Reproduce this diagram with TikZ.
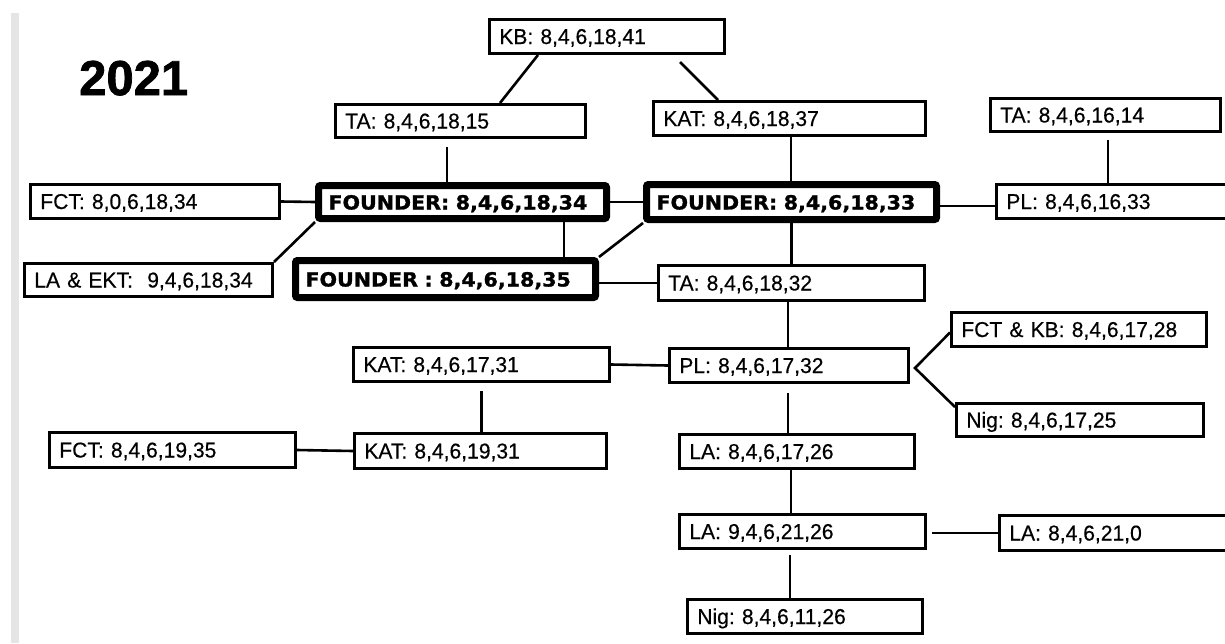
\documentclass[tikz,border=0pt]{standalone}
\usepackage{fontspec}
\newfontfamily\labfont[FakeStretch=0.98,FakeBold=0.4]{Liberation Sans}
\newfontfamily\fndfont[FakeStretch=1.056]{DejaVu Sans}[BoldFeatures={FakeBold=1.2}]
\newfontfamily\yearfont{Liberation Sans}[BoldFeatures={FakeBold=1.5}]
\newcommand\placebox[8]{% #1 style, #2 line width, #3 name, #4 left, #5 top, #6 right, #7 bottom, #8 text
  \pgfmathsetmacro\bxtw{#6-#4-#2-20}%
  \pgfmathsetmacro\bxh{#7-#5-#2}%
  \pgfmathsetmacro\bxcx{(#4+#6)/2}%
  \pgfmathsetmacro\bxcy{(#5+#7)/2}%
  \node[#1, text width=\bxtw pt, minimum height=\bxh pt] (#3) at (\bxcx,\bxcy) {\mbox{#8}};%
}
\tikzset{
  box/.style={draw=black, fill=white, line width=2.6pt, inner xsep=10pt, inner ysep=0pt,
    text height=15pt, text depth=0pt, align=left,
    font=\labfont\frenchspacing\fontsize{21.5}{24}\selectfont},
  founderbox/.style={box, line width=7pt, rounded corners=2pt,
    font=\fndfont\bfseries\frenchspacing\fontsize{19.5}{22}\selectfont},
  link/.style={draw=black, line width=2.6pt},
}
\begin{document}
\frenchspacing
\begin{tikzpicture}[x=1pt,y=-1pt]
\useasboundingbox (0,0) rectangle (1225,643);
\fill[white] (0,0) rectangle (1225,643);
\fill[black!10] (11,13) rectangle (19,643);
\node[anchor=base west, inner sep=0pt, font=\yearfont\bfseries\fontsize{49}{52}\selectfont] (yr) at (79,95) {2021};

% thin boxes
\placebox{box}{2.6}{KB}{488}{18}{726}{55}{KB: 8,4,6,18,41}
\placebox{box}{2.6}{TAa}{334}{103}{587}{139}{TA: 8,4,6,18,15}
\placebox{box}{2.6}{KATa}{652}{100}{927}{137}{KAT: 8,4,6,18,37}
\placebox{box}{2.6}{TAb}{989}{97}{1222}{133}{TA: 8,4,6,16,14}
\placebox{box}{2.6}{FCTa}{29}{183}{281}{220}{FCT: 8,0,6,18,34}
\placebox{box}{2.6}{LAE}{23}{262}{274}{298}{LA \& EKT:\ \ 9,4,6,18,34}
\placebox{box}{2.6}{PLa}{995}{183}{1240}{220}{PL: 8,4,6,16,33}
\placebox{box}{2.6}{TAc}{657}{264}{926}{302}{TA: 8,4,6,18,32}
\placebox{box}{2.6}{KATb}{352}{346}{611}{383}{KAT: 8,4,6,17,31}
\placebox{box}{2.6}{PLb}{668}{347}{910}{384}{PL: 8,4,6,17,32}
\placebox{box}{2.6}{FCTKB}{950}{311}{1208}{348}{FCT \& KB: 8,4,6,17,28}
\placebox{box}{2.6}{NigA}{955}{402}{1205}{438}{Nig: 8,4,6,17,25}
\placebox{box}{2.6}{FCTb}{48}{431}{297}{469}{FCT: 8,4,6,19,35}
\placebox{box}{2.6}{KATc}{353}{432}{608}{470}{KAT: 8,4,6,19,31}
\placebox{box}{2.6}{LAa}{678}{433}{916}{470}{LA: 8,4,6,17,26}
\placebox{box}{2.6}{LAb}{678}{513}{927}{550}{LA: 9,4,6,21,26}
\placebox{box}{2.6}{LAc}{998}{514}{1240}{552}{LA: 8,4,6,21,0}
\placebox{box}{2.6}{NigB}{686}{598}{924}{635}{Nig: 8,4,6,11,26}
% founder boxes
\placebox{founderbox}{7}{Fa}{315}{182}{610}{222}{FOUNDER: 8,4,6,18,34}
\placebox{founderbox}{7}{Fb}{643}{181}{940}{223}{FOUNDER: 8,4,6,18,33}
\placebox{founderbox}{7}{Fc}{292}{257}{599}{301}{FOUNDER : 8,4,6,18,35}

% connectors
\draw[link] ([xshift=-69pt]KB.south) -- ([xshift=39.5pt]TAa.north);
\draw[link] ([xshift=73pt,yshift=-7pt]KB.south) -- ([xshift=-71.5pt]KATa.north);
\draw[link] ([xshift=-13.5pt,yshift=-8pt]TAa.south) -- ([xshift=-13.5pt]TAa.south |- Fa.north);
\draw[link] (FCTa.east) -- (Fa.west);
\draw[link] (LAE.north east) -- (Fa.south west);
\draw[link] ([xshift=101.5pt]Fa.south) -- ([xshift=101.5pt]Fa.south |- Fc.north);
\draw[link] (Fa.east) -- (Fb.west);
\draw[link] (Fb.south west) -- (Fc.north east);
\draw[link] ([xshift=1.5pt]KATa.south) -- ([xshift=1.5pt]KATa.south |- Fb.north);
\draw[link] ([yshift=-4pt]Fb.east) -- ([yshift=-4pt]Fb.east -| PLa.west);
\draw[link] ([xshift=2.5pt,yshift=-7pt]TAb.south) -- ([xshift=2.5pt]TAb.south |- PLa.north);
\draw[link] (Fb.south) -- (Fb.south |- TAc.north);
\draw[link] ([yshift=-4pt]Fc.east) -- (TAc.west);
\draw[link] ([xshift=-3.5pt]TAc.south) -- ([xshift=-3.5pt]TAc.south |- PLb.north);
\draw[link] (KATb.east) -- (PLb.west);
\coordinate (fork) at ([xshift=5pt,yshift=-2.5pt]PLb.east);
\draw[link] ([yshift=-3pt]FCTKB.west) -- (fork) -- ([yshift=-5pt]NigA.north west);
\draw[link] ([xshift=-1pt,yshift=-9pt]PLb.south) -- ([xshift=-1pt]PLb.south |- LAa.north);
\draw[link] ([yshift=-8pt]KATb.south) -- (KATb.south |- KATc.north);
\draw[link] (FCTb.east) -- (KATc.west);
\draw[link] ([xshift=-6pt]LAa.south) -- ([xshift=-6pt]LAa.south |- LAb.north);
\draw[link] ([xshift=5pt,yshift=-1.5pt]LAb.east) -- ([yshift=-1.5pt]LAb.east -| LAc.west);
\draw[link] ([xshift=-12.5pt,yshift=-5pt]LAb.south) -- ([xshift=-12.5pt]LAb.south |- NigB.north);
\end{tikzpicture}
\end{document}
